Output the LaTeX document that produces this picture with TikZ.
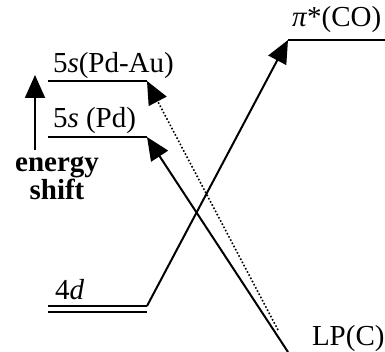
\documentclass[tikz,border=0pt]{standalone}
\usepackage{fontspec}
\setmainfont{Liberation Serif}
\usetikzlibrary{arrows.meta}

\begin{document}
\begin{tikzpicture}[
    x=1pt, y=-1pt,
    >={Triangle[length=23pt,width=20pt]},
    line width=2pt,
    lbl/.style={inner sep=0pt, anchor=base west, font=\fontsize{29}{24}\selectfont},
    level/.style={line width=2.2pt}
]
  \useasboundingbox (0,0) rectangle (385,352);

  % levels
  \coordinate (aul) at (48,81);   \coordinate (aur) at (147,81);
  \coordinate (pdl) at (48,137);  \coordinate (pdr) at (147,137);
  \coordinate (d1l) at (48,306);  \coordinate (d1r) at (147,306);
  \coordinate (d2l) at (48,312);  \coordinate (d2r) at (147,312);
  \coordinate (pil) at (288,40);  \coordinate (pir) at (385,40);
  \coordinate (lp)  at (288,352);
  \coordinate (lpd) at (278,330);
  \coordinate (eb)  at (35,150);  \coordinate (et)  at (35,75);

  \draw[level] (aul) -- (aur);
  \draw[level] (pdl) -- (pdr);
  \draw[level] (d1l) -- (d1r);
  \draw[level] (d2l) -- (d2r);
  \draw[level] (pil) -- (pir);

  % labels
  \node[lbl] (tau) at (52,73)  {5\textit{s}(Pd-Au)};
  \node[lbl] (tpd) at (52,128) {5\textit{s} (Pd)};
  \node[lbl] (t4d) at (54,299) {4\textit{d}};
  \node[lbl] (tpi) at (291,27) {\textit{π}*(CO)};
  \node[lbl] (tlp) at (311,345) {LP(C)};
  \node[inner sep=0pt, align=center, anchor=north,
        font=\fontsize{29}{24}\selectfont\bfseries] (tes) at (57,156) {energy\\shift};

  % arrows
  \draw[->] (eb) -- (et);
  \draw[->] (d1r) -- (pil);
  \draw[->] (lp) -- (pdr);
  \draw[->, dotted, line width=1.6pt] (lpd) -- (aur);
\end{tikzpicture}
\end{document}
